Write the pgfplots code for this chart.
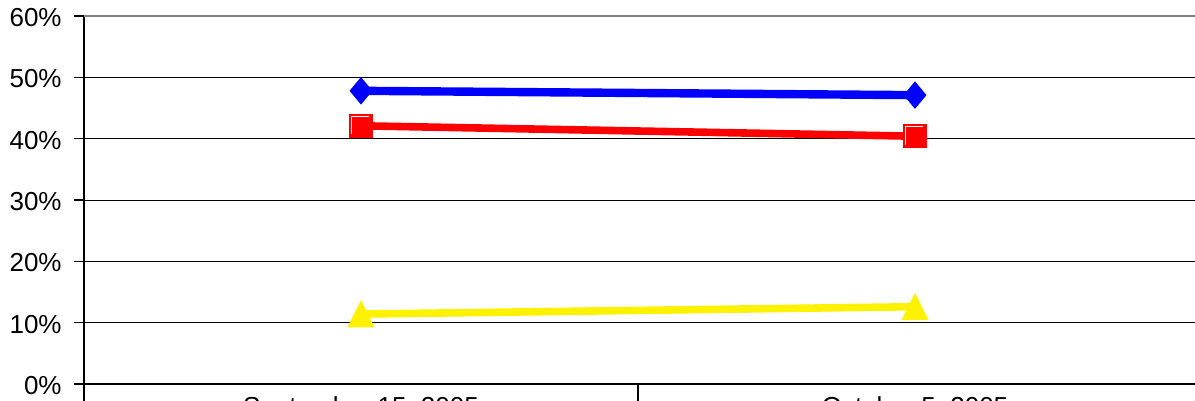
\documentclass[border=0pt]{standalone}
\usepackage{pgfplots}
\pgfplotsset{compat=1.18}
\usepackage{fontspec}
\setmainfont{Liberation Sans}

% Excel style markers
\pgfdeclareplotmark{xdiam}{%
  \pgfpathmoveto{\pgfqpoint{0pt}{1.2\pgfplotmarksize}}%
  \pgfpathlineto{\pgfqpoint{\pgfplotmarksize}{0pt}}%
  \pgfpathlineto{\pgfqpoint{0pt}{-1.2\pgfplotmarksize}}%
  \pgfpathlineto{\pgfqpoint{-\pgfplotmarksize}{0pt}}%
  \pgfpathclose
  \pgfusepathqfillstroke}
\pgfdeclareplotmark{bevsquare}{%
  \pgfpathrectangle{\pgfqpoint{-\pgfplotmarksize}{-\pgfplotmarksize}}%
    {\pgfqpoint{2\pgfplotmarksize}{2\pgfplotmarksize}}%
  \pgfusepathqfillstroke
  \begin{pgfscope}
    \pgfsetstrokecolor{white}\pgfsetlinewidth{0.5pt}%
    \pgfpathmoveto{\pgfpointadd{\pgfqpoint{-\pgfplotmarksize}{-\pgfplotmarksize}}{\pgfqpoint{0.9pt}{1.6pt}}}%
    \pgfpathlineto{\pgfpointadd{\pgfqpoint{-\pgfplotmarksize}{\pgfplotmarksize}}{\pgfqpoint{0.9pt}{-0.9pt}}}%
    \pgfpathlineto{\pgfpointadd{\pgfqpoint{\pgfplotmarksize}{\pgfplotmarksize}}{\pgfqpoint{-1.6pt}{-0.9pt}}}%
    \pgfusepathqstroke
  \end{pgfscope}}
\pgfdeclareplotmark{xtri}{%
  \pgfpathmoveto{\pgfqpoint{0pt}{\pgfplotmarksize}}%
  \pgfpathlineto{\pgfqpoint{\pgfplotmarksize}{-\pgfplotmarksize}}%
  \pgfpathlineto{\pgfqpoint{-\pgfplotmarksize}{-\pgfplotmarksize}}%
  \pgfpathclose
  \pgfusepathqfillstroke}

\begin{document}
\begin{tikzpicture}[x=1pt,y=1pt]
\useasboundingbox (0,0) rectangle (597.5,200.5);
\clip (0,0) rectangle (597.5,200.5);
\begin{axis}[
    at={(42pt,8.5pt)}, anchor=south west,
    scale only axis,
    width=555.5pt, height=184pt,
    xmin=0, xmax=2.0054,
    ymin=0, ymax=60,
    axis x line*=bottom,
    axis y line*=left,
    x axis line style={line width=1.2pt},
    y axis line style={line width=1.3pt},
    tick align=outside,
    major tick length=5pt,
    tick style={black, line width=0.8pt},
    % categories
    xtick={0.5,1.5},
    xticklabels={{September 15, 2005}, {October 5, 2005}},
    xtick style={draw=none},
    xticklabel style={anchor=north, inner sep=0pt, yshift=-1pt,
      font=\fontsize{13}{15}\selectfont},
    extra x ticks={0,1},
    extra x tick labels={},
    extra x tick style={major tick length=14pt,
      xtick style={draw=black, line width=0.8pt}},
    % values
    ytick={0,10,...,50},
    yticklabel={\pgfmathprintnumber{\tick}\%},
    yticklabel style={anchor=east, inner sep=0pt, xshift=-6pt, yshift=-0.8pt,
      font=\fontsize{13}{15}\selectfont},
    extra y ticks={60},
    extra y tick style={grid style={gray, line width=1pt}},
    /pgf/number format/assume math mode=true,
    ymajorgrids,
    grid style={black, line width=0.5pt},
    clip=false,
  ]
  \addplot [blue, line width=4.2pt, mark=xdiam, mark size=5.4pt,
    mark options={solid, fill=blue, draw=blue, line width=0.5pt}]
  coordinates {(0.5,47.8) (1.5,47.1)};
  \addplot [red, line width=3.8pt, mark=bevsquare, mark size=5.75pt,
    mark options={solid, fill=red, draw=red, line width=0.5pt}]
  coordinates {(0.5,42.1) (1.5,40.4)};
  \addplot [yellow, line width=3.8pt, mark=xtri, mark size=6.4pt,
    mark options={solid, fill=yellow, draw=yellow, line width=0.5pt}]
  coordinates {(0.5,11.4) (1.5,12.6)};
\end{axis}
\end{tikzpicture}
\end{document}
